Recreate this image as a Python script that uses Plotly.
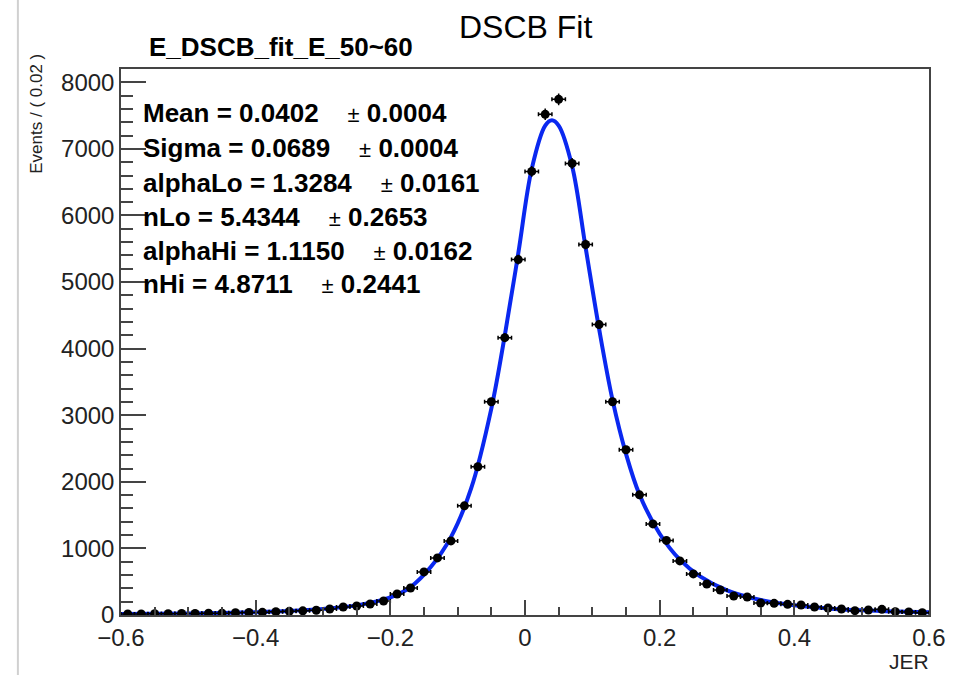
import plotly.graph_objects as go

# ---- data ----
bin_centers = [-0.59, -0.57, -0.55, -0.53, -0.51, -0.49, -0.47, -0.45, -0.43, -0.41,
               -0.39, -0.37, -0.35, -0.33, -0.31, -0.29, -0.27, -0.25, -0.23, -0.21,
               -0.19, -0.17, -0.15, -0.13, -0.11, -0.09, -0.07, -0.05, -0.03, -0.01,
               0.01, 0.03, 0.05, 0.07, 0.09, 0.11, 0.13, 0.15, 0.17, 0.19,
               0.21, 0.23, 0.25, 0.27, 0.29, 0.31, 0.33, 0.35, 0.37, 0.39,
               0.41, 0.43, 0.45, 0.47, 0.49, 0.51, 0.53, 0.55, 0.57, 0.59]
events = [15, 16, 18, 20, 22, 24, 27, 28, 33, 38,
          40, 48, 55, 62, 72, 90, 120, 135, 165, 211,
          316, 406, 647, 857, 1113, 1639, 2226, 3203, 4165, 5338,
          6662, 7519, 7744, 6782, 5564, 4361, 3203, 2481, 1805, 1368,
          1120, 812, 617, 466, 376, 286, 271, 180, 175, 160,
          150, 120, 105, 90, 65, 75, 85, 50, 45, 35]

fit_x = [-0.60, -0.55, -0.50, -0.45, -0.40, -0.35, -0.30, -0.25, -0.20, -0.17,
         -0.14, -0.11, -0.08, -0.05, -0.03, -0.01, 0.01, 0.03, 0.04, 0.05,
         0.07, 0.09, 0.11, 0.13, 0.15, 0.17, 0.20, 0.23, 0.26, 0.30,
         0.35, 0.40, 0.45, 0.50, 0.55, 0.60]
fit_y = [14, 18, 23, 30, 42, 60, 92, 145, 265, 420,
         720, 1170, 1900, 3100, 4200, 5430, 6700, 7350, 7430, 7350,
         6740, 5520, 4300, 3230, 2420, 1810, 1220, 830, 580, 370,
         225, 145, 98, 70, 52, 40]

stat_lines = [("Mean = 0.0402", "0.0004"),
              ("Sigma = 0.0689", "0.0004"),
              ("alphaLo = 1.3284", "0.0161"),
              ("nLo = 5.4344", "0.2653"),
              ("alphaHi = 1.1150", "0.0162"),
              ("nHi = 4.8711", "0.2441")]

title_text = "DSCB Fit"
subtitle_text = "E_DSCB_fit_E_50~60"
x_title = "JER"
y_title = "Events / ( 0.02 )"

# ---- layout geometry ----
W, H = 958, 675
L, R, T, B = 121, 22, 69, 60
PW, PH = W - L - R, H - T - B


def px(xp):
    return (xp - L) / PW


def py(yp):
    return (H - B - yp) / PH


FONT = "Liberation Sans, Arial, Helvetica, sans-serif"

fig = go.Figure()

fig.add_trace(go.Scatter(
    x=fit_x, y=fit_y, mode="lines",
    line=dict(color="#0a28f0", width=4, shape="spline", smoothing=1.0),
    hoverinfo="skip", showlegend=False))

fig.add_trace(go.Scatter(
    x=bin_centers, y=events, mode="markers",
    marker=dict(color="black", size=9, symbol="circle"),
    error_x=dict(type="constant", value=0.01, color="black", thickness=1.5, width=2),
    error_y=dict(type="sqrt", color="black", thickness=1.5, width=0),
    showlegend=False))

annotations = []
y_rows = [113, 148, 183, 217, 251, 284]
for (lhs, err), yr in zip(stat_lines, y_rows):
    annotations.append(dict(
        xref="paper", yref="paper", x=px(141), y=py(yr),
        xanchor="left", yanchor="middle", showarrow=False,
        text=f"<b>{lhs}</b>    <span style='font-size:22px'>±</span> <b>{err}</b>",
        font=dict(family=FONT, size=26, color="black")))

annotations.append(dict(xref="paper", yref="paper", x=px(529), y=py(27),
                        xanchor="center", yanchor="middle", showarrow=False,
                        text=title_text, font=dict(family=FONT, size=32, color="black")))
annotations.append(dict(xref="paper", yref="paper", x=px(147), y=py(47),
                        xanchor="left", yanchor="middle", showarrow=False,
                        text=f"<b>{subtitle_text}</b>",
                        font=dict(family=FONT, size=26, color="black")))
annotations.append(dict(xref="paper", yref="paper", x=px(938), y=py(661),
                        xanchor="right", yanchor="middle", showarrow=False,
                        text=x_title, font=dict(family=FONT, size=21, color="#222")))
annotations.append(dict(xref="paper", yref="paper", x=px(35), y=py(114),
                        xanchor="center", yanchor="middle", showarrow=False,
                        textangle=-90,
                        text=y_title, font=dict(family=FONT, size=17, color="#222")))

fig.update_layout(
    width=W, height=H,
    margin=dict(l=L, r=R, t=T, b=B),
    paper_bgcolor="white", plot_bgcolor="white",
    showlegend=False,
    annotations=annotations,
    shapes=[dict(type="line", xref="paper", yref="paper",
                 x0=px(17), x1=px(17), y0=py(675), y1=py(0),
                 line=dict(color="#d0d0d0", width=2))],
    font=dict(family=FONT, size=24, color="#222"),
)

fig.update_xaxes(
    range=[-0.6, 0.6], dtick=0.2, tick0=0,
    ticks="inside", ticklen=15, tickwidth=1.5, tickcolor="#444",
    minor=dict(ticks="inside", dtick=0.05, ticklen=8, tickwidth=1.5, tickcolor="#444"),
    showline=True, linecolor="#444", linewidth=1.5, mirror=True,
    showgrid=False, zeroline=False,
    tickfont=dict(family=FONT, size=24, color="#222"))

fig.update_yaxes(
    range=[0, 8200], dtick=1000, tick0=0,
    ticks="inside", ticklen=25, tickwidth=1.5, tickcolor="#444",
    minor=dict(ticks="inside", dtick=200, ticklen=12, tickwidth=1.5, tickcolor="#444"),
    showline=True, linecolor="#444", linewidth=1.5, mirror=True,
    showgrid=False, zeroline=False,
    tickfont=dict(family=FONT, size=24, color="#222"))

fig.write_html("out.html")
